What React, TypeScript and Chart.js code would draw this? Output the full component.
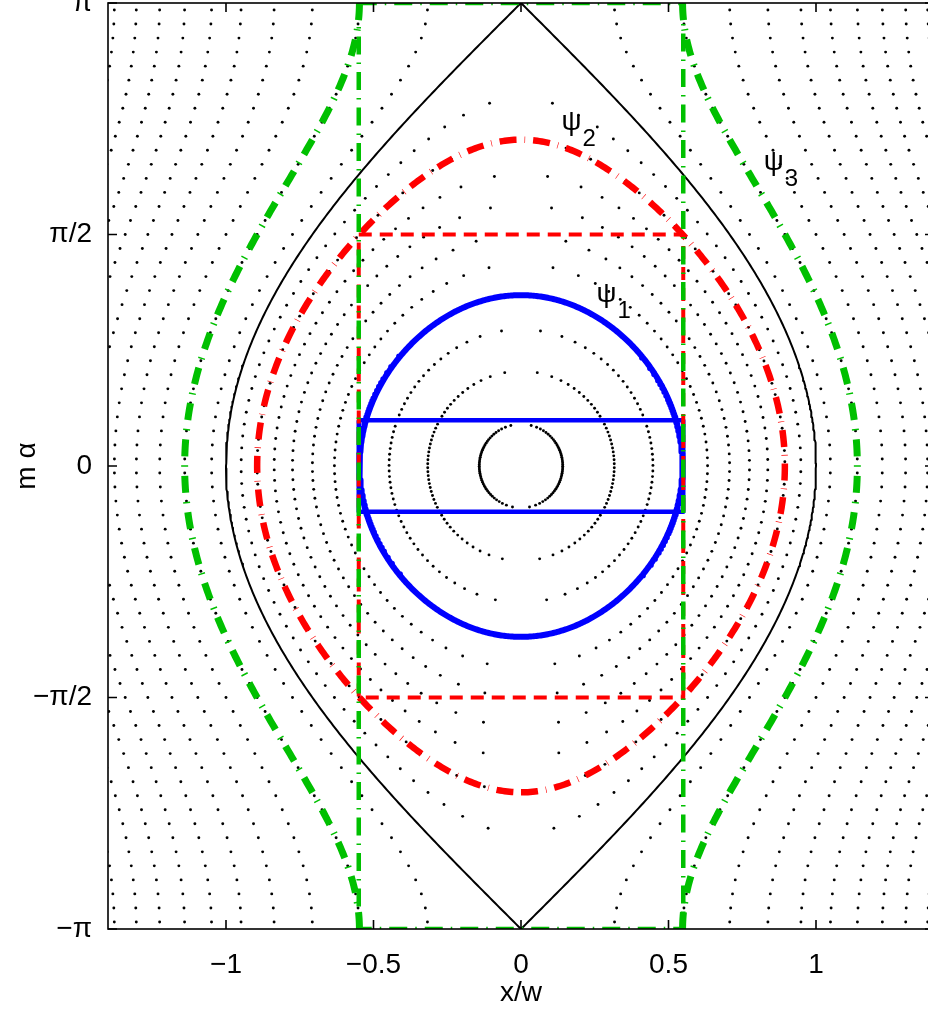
import React, { useEffect, useRef } from "react";
import { Chart, registerables } from "chart.js";

Chart.register(...registerables);

const PI = Math.PI;

// ---- axes ----
const xMin = -1.4;
const xMax = 1.4;
const yMin = -PI;
const yMax = PI;
const xTickValues = [-1, -0.5, 0, 0.5, 1];
const xTickLabels = ["−1", "−0.5", "0", "0.5", "1"];
const yTickValues = [-PI, -PI / 2, 0, PI / 2, PI];
const yTickLabels = ["−π", "−π/2", "0", "π/2", "π"];

// ---- flux levels, Ω = 2(x/w)² − cos(mα) ----
const closedLevels = [-0.96, -0.8, -0.6, -0.4, -0.2, 0, 0.2, 0.4, 0.6, 0.8];
const openLevels = [1.2, 1.6, 2.0, 2.4, 2.8, 3.2, 3.6, 4.0, 4.4, 4.8, 5.2];
const separatrixLevel = 1.0;
const psi1Level = -0.4;
const psi2Level = 0.6;
const psi3Level = 1.6;

// ---- rectangles (half width in x/w, half height in mα) ----
const rectHalfWidth = [0.55, 0.55, 0.55];
const rectHalfHeight = [0.31, PI / 2, PI];

// ---- label anchors ----
const psiSubs = ["1", "2", "3"];
const psiX = [0.256, 0.137, 0.823];
const psiY = [1.113, 2.28, 2.008];

const FONT = "'Liberation Sans', Arial, Helvetica, sans-serif";
const BLUE = "#0000ff";
const RED = "#ff0000";
const GREEN = "#00c000";
const FS = 28;

type P = { x: number; y: number };

const halfW = (level: number, a: number) => {
  const v = (level + Math.cos(a)) / 2;
  return v > 0 ? Math.sqrt(v) : 0;
};

// closed contour (inside island), smooth parameterisation
function closedCurve(level: number): P[] {
  const k = Math.sqrt((1 + level) / 2);
  const pts: P[] = [];
  const n = 720;
  for (let i = 0; i <= n; i++) {
    const t = -PI / 2 + (i / n) * 2 * PI;
    const s = Math.max(-1, Math.min(1, k * Math.sin(t)));
    pts.push({ x: k * Math.cos(t), y: 2 * Math.asin(s) });
  }
  return pts;
}

function openCurve(level: number, side: number): P[] {
  const pts: P[] = [];
  const n = 360;
  for (let i = 0; i <= n; i++) {
    const a = -PI + (i / n) * 2 * PI;
    pts.push({ x: side * halfW(level, a), y: a });
  }
  return pts;
}

function rect(hw: number, hh: number): P[] {
  return [
    { x: -hw, y: hh },
    { x: hw, y: hh },
    { x: hw, y: -hh },
    { x: -hw, y: -hh },
    { x: -hw, y: hh },
  ];
}

function dots(): P[] {
  const pts: P[] = [];
  closedLevels.forEach((lv) => {
    const k = Math.sqrt((1 + lv) / 2);
    const aMax = 2 * Math.asin(k);
    const step = 0.085 * k;
    [1, -1].forEach((side) => {
      for (let a = -aMax + step * 0.5; a < aMax; a += step) {
        pts.push({ x: side * halfW(lv, a), y: a });
      }
    });
  });
  const nRows = 66;
  openLevels.forEach((lv) => {
    [1, -1].forEach((side) => {
      for (let r = 0; r < nRows; r++) {
        const a = -PI + ((r + 0.5) * 2 * PI) / nRows;
        pts.push({ x: side * halfW(lv, a), y: a });
      }
    });
  });
  return pts;
}

const labelFor = (vals: number[], labels: string[], v: number) => {
  const i = vals.findIndex((t) => Math.abs(t - v) < 1e-9);
  return i >= 0 ? labels[i] : "";
};

const decorPlugin = {
  id: "decor",
  afterDatasetsDraw(chart: any) {
    const { ctx, chartArea: a, scales } = chart;
    const xs = scales.x;
    const ys = scales.y;
    ctx.save();
    ctx.strokeStyle = "#000";
    ctx.lineWidth = 1.6;
    ctx.strokeRect(a.left, a.top, a.right - a.left, a.bottom - a.top);
    const tl = 9;
    ctx.beginPath();
    xTickValues.forEach((v) => {
      const px = xs.getPixelForValue(v);
      ctx.moveTo(px, a.bottom);
      ctx.lineTo(px, a.bottom - tl);
      ctx.moveTo(px, a.top);
      ctx.lineTo(px, a.top + tl);
    });
    yTickValues.forEach((v) => {
      const py = ys.getPixelForValue(v);
      ctx.moveTo(a.left, py);
      ctx.lineTo(a.left + tl, py);
      ctx.moveTo(a.right, py);
      ctx.lineTo(a.right - tl, py);
    });
    ctx.stroke();

    ctx.fillStyle = "#000";
    ctx.textAlign = "left";
    ctx.textBaseline = "alphabetic";
    psiSubs.forEach((sub, i) => {
      const px = xs.getPixelForValue(psiX[i]);
      const py = ys.getPixelForValue(psiY[i]);
      ctx.font = `28px ${FONT}`;
      ctx.fillText("ψ", px, py);
      const w = ctx.measureText("ψ").width;
      ctx.font = `24px ${FONT}`;
      ctx.fillText(sub, px + w + 1, py + 16);
    });
    ctx.restore();
  },
};

export default function App() {
  const ref = useRef<HTMLCanvasElement | null>(null);

  useEffect(() => {
    if (!ref.current) return;
    Chart.defaults.font.family = FONT;
    const line = (data: P[], color: string, width: number, dash: number[] = []) => ({
      type: "scatter" as const,
      data,
      showLine: true,
      borderColor: color,
      borderWidth: width,
      borderDash: dash,
      borderCapStyle: "butt",
      borderJoinStyle: "round",
      pointRadius: 0,
      pointHoverRadius: 0,
      fill: false,
      tension: 0,
    });

    const datasets: any[] = [
      line(rect(rectHalfWidth[2], rectHalfHeight[2]), GREEN, 4.5, [18, 8, 1.5, 8]),
      line(rect(rectHalfWidth[1], rectHalfHeight[1]), RED, 4, [13, 8]),
      line(openCurve(psi3Level, 1), GREEN, 7, [17, 9, 1.5, 9]),
      line(openCurve(psi3Level, -1), GREEN, 7, [17, 9, 1.5, 9]),
      line(closedCurve(psi2Level), RED, 6.5, [17, 8, 0.6, 8]),
      line(rect(rectHalfWidth[0], rectHalfHeight[0]), BLUE, 4.5),
      line(closedCurve(psi1Level), BLUE, 6),
      line(closedCurve(separatrixLevel), "#000", 2),
      {
        type: "scatter",
        data: dots(),
        showLine: false,
        pointRadius: 1.45,
        pointHoverRadius: 1.45,
        pointBackgroundColor: "#000",
        pointBorderWidth: 0,
      },
    ];

    const chart = new Chart(ref.current, {
      type: "scatter",
      data: { datasets },
      options: {
        animation: false,
        responsive: false,
        devicePixelRatio: 1,
        events: [],
        layout: { padding: { top: 3, right: 16, bottom: 0, left: 0 } },
        plugins: { legend: { display: false }, tooltip: { enabled: false } },
        scales: {
          x: {
            type: "linear",
            position: "bottom",
            min: xMin,
            max: xMax,
            grid: { display: false, drawTicks: false },
            border: { display: false },
            afterBuildTicks: (s: any) => {
              s.ticks = xTickValues.map((v) => ({ value: v }));
            },
            afterFit: (s: any) => {
              s.height = 87;
              s.paddingLeft = 0;
              s.paddingRight = 0;
            },
            ticks: {
              callback: (v: any) => labelFor(xTickValues, xTickLabels, Number(v)),
              color: "#000",
              font: { size: FS },
              padding: 19,
              maxRotation: 0,
              autoSkip: false,
            },
            title: {
              display: true,
              text: "x/w",
              color: "#000",
              font: { size: FS },
              padding: { top: 0, bottom: 6 },
            },
          },
          y: {
            type: "linear",
            position: "left",
            min: yMin,
            max: yMax,
            grid: { display: false, drawTicks: false },
            border: { display: false },
            afterBuildTicks: (s: any) => {
              s.ticks = yTickValues.map((v) => ({ value: v }));
            },
            afterFit: (s: any) => {
              s.width = 108;
              s.paddingTop = 0;
              s.paddingBottom = 0;
            },
            ticks: {
              callback: (v: any) => labelFor(yTickValues, yTickLabels, Number(v)),
              color: "#000",
              font: { size: FS },
              padding: 16,
              autoSkip: false,
            },
            title: {
              display: true,
              text: "m α",
              color: "#000",
              font: { size: FS },
              padding: { top: 10, bottom: 0 },
            },
          },
        },
      } as any,
      plugins: [decorPlugin],
    });
    return () => chart.destroy();
  }, []);

  return (
    <div
      style={{
        position: "fixed",
        left: 0,
        top: 0,
        width: 928,
        height: 1016,
        overflow: "hidden",
        background: "#fff",
      }}
    >
      <canvas ref={ref} width={950} height={1016} style={{ display: "block", width: 950, height: 1016 }} />
    </div>
  );
}
